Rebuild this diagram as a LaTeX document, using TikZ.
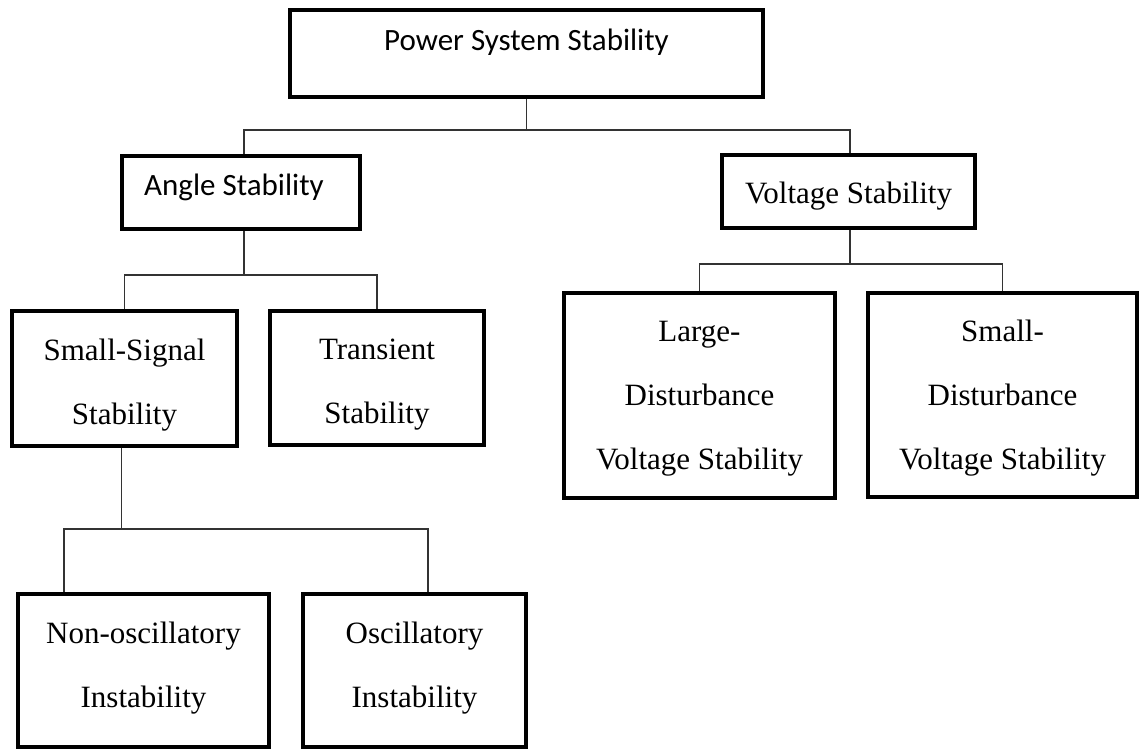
\documentclass[tikz,border=0pt]{standalone}
\usepackage{fontspec}
\setmainfont{Liberation Serif}
\newfontfamily\calibrifont{Carlito}
\usetikzlibrary{calc}
\newcommand{\topstrut}[1]{\rule{0pt}{#1}}
\newcommand{\botstrut}[1]{\rule[-#1]{0pt}{#1}}
\tikzset{
  box/.style={draw=black, line width=3.5pt, inner sep=0pt, align=center,
    font=\fontsize{31}{64}\selectfont},
  conn/.style={draw=black!80, line width=1.6pt},
  sanslabel/.style={anchor=base, inner sep=0pt, font=\calibrifont\fontsize{31}{38}\selectfont}
}
\begin{document}
\begin{tikzpicture}[x=1pt,y=-1pt]
\useasboundingbox (0,0) rectangle (1139,749);
% boxes
\node[box, minimum width=473pt, minimum height=87pt] (pss) at (526.5,53.5) {};
\node[sanslabel] (psstext) at (526.5,51) {Power System Stability};
\node[box, minimum width=238pt, minimum height=73pt] (angle) at (241,192.5) {};
\node[sanslabel] (angletext) at (234,195) {Angle Stability};
\node[box, minimum width=253pt, minimum height=73pt] (volt) at (848.5,191.5) {\topstrut{31pt}Voltage Stability};
\node[box, minimum width=225pt, minimum height=135pt] (ss) at (124.5,378.5) {\topstrut{34pt}Small-Signal\\Stability};
\node[box, minimum width=214pt, minimum height=134pt] (trans) at (377,378) {\topstrut{34pt}Transient\\Stability};
\node[box, minimum width=271pt, minimum height=205pt] (large) at (699.5,395.5) {\topstrut{27pt}Large-\\Disturbance\\Voltage Stability};
\node[box, minimum width=269pt, minimum height=204pt] (smalld) at (1002.5,395) {\topstrut{27pt}Small-\\Disturbance\\Voltage Stability};
\node[box, minimum width=251pt, minimum height=153pt] (nonosc) at (143.5,670.5) {Non-oscillatory\\Instability\botstrut{12pt}};
\node[box, minimum width=223pt, minimum height=153pt] (osc) at (414.5,670.5) {Oscillatory\\Instability\botstrut{12pt}};
% bus junctions
\coordinate (b1) at ($(pss.south)+(0,31)$);
\coordinate (b2) at ($(angle.south)+(3,44)$);
\coordinate (b3) at ($(volt.south)+(1.5,34)$);
\coordinate (b4) at ($(ss.south)+(-3,81)$);
\coordinate (nonoscin) at ($(nonosc.north)+(-79.5,0)$);
\coordinate (oscin) at ($(osc.north)+(13.5,0)$);
% connectors
\draw[conn] (pss.south) -- (b1);
\draw[conn] (b1) -| ($(angle.north)+(3,0)$);
\draw[conn] (b1) -| ($(volt.north)+(1.5,0)$);
\draw[conn] ($(angle.south)+(3,0)$) -- (b2);
\draw[conn] (b2) -| (ss.north);
\draw[conn] (b2) -| (trans.north);
\draw[conn] ($(volt.south)+(1.5,0)$) -- (b3);
\draw[conn] (b3) -| (large.north);
\draw[conn] (b3) -| (smalld.north);
\draw[conn] ($(ss.south)+(-3,0)$) -- (b4);
\draw[conn] (b4) -| (nonoscin);
\draw[conn] (b4) -| (oscin);
\end{tikzpicture}
\end{document}
